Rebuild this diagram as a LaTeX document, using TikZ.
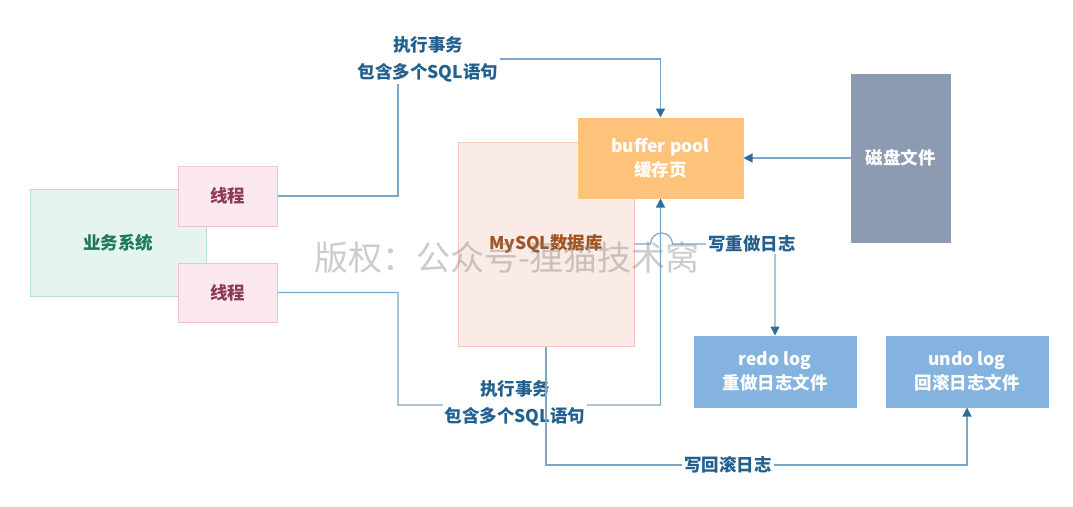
\documentclass[tikz,border=0pt]{standalone}
\usepackage{fontspec}
\setmainfont{Noto Sans CJK SC}
\usetikzlibrary{arrows.meta}
\definecolor{linec}{HTML}{7BA7C9}
\definecolor{tipc}{HTML}{2F6D9C}
\definecolor{lblc}{HTML}{22608F}
\definecolor{bizfill}{HTML}{E6F4EE}
\definecolor{bizdraw}{HTML}{B8E0D0}
\definecolor{biztext}{HTML}{1D7A5A}
\definecolor{thrfill}{HTML}{FBE9EF}
\definecolor{thrdraw}{HTML}{F0C0CC}
\definecolor{thrtext}{HTML}{8C3A55}
\definecolor{myfill}{HTML}{FBEBE6}
\definecolor{mydraw}{HTML}{F4C9B8}
\definecolor{mytext}{HTML}{A0531F}
\definecolor{buffill}{HTML}{FFC27A}
\definecolor{diskfill}{HTML}{8C9BB1}
\definecolor{logfill}{HTML}{84B3E0}
\tikzset{
  box/.style={rectangle, inner sep=0pt, line width=1pt, align=center, font=\fontsize{17.5}{24}\selectfont\bfseries},
  conn/.style={draw=linec, line width=1.2pt},
  arr/.style={-{Triangle[length=9pt,width=9pt,color=tipc]}},
  lbl/.style={fill=white, inner sep=2pt, align=center, text=lblc, font=\fontsize{17.5}{27}\selectfont\bfseries}
}
\begin{document}
\begin{tikzpicture}[x=1pt,y=-1pt]
\useasboundingbox[fill=white] (0,0) rectangle (1073,506);
% boxes
\node[box, fill=bizfill, draw=bizdraw, text=biztext, minimum width=176pt, minimum height=107pt] (biz) at (118,242.5) {业务系统};
\node[box, fill=thrfill, draw=thrdraw, text=thrtext, minimum width=99pt, minimum height=60pt] (t1) at (227.5,196) {线程};
\node[box, fill=thrfill, draw=thrdraw, text=thrtext, minimum width=99pt, minimum height=59pt] (t2) at (227.5,292.5) {线程};
\node[box, fill=myfill, draw=mydraw, text=mytext, minimum width=176pt, minimum height=204pt] (my) at (546,244) {MySQL数据库};
\node[box, fill=buffill, draw=buffill, text=white, minimum width=165pt, minimum height=80pt] (buf) at (660.5,158) {buffer pool\\缓存页};
\node[box, fill=diskfill, draw=diskfill, text=white, minimum width=99pt, minimum height=168pt] (disk) at (900.5,158) {磁盘文件};
\node[box, fill=logfill, draw=logfill, text=white, minimum width=162pt, minimum height=71pt] (redo) at (775,371.5) {redo log\\重做日志文件};
\node[box, fill=logfill, draw=logfill, text=white, minimum width=162pt, minimum height=71pt] (undo) at (967,371.5) {undo log\\回滚日志文件};
% connectors
\coordinate (c1) at (398,59);
\draw[conn,arr] (t1.east) -| (c1) -- (buf.north |- c1) -- (buf.north);
\node[lbl] (l1) at (428,59) {执行事务\\包含多个SQL语句};
\coordinate (c2) at (398,405);
\draw[conn,arr] (t2.east) -| (c2) -- (535.7,405) arc[start angle=180, end angle=0, radius=11pt] -- (buf.south |- c2) -- (buf.south);
\node[lbl] (l2) at (515,403) {执行事务\\包含多个SQL语句};
\draw[conn,arr] (disk.west) -- (buf.east);
\coordinate (c4) at (775,244);
\draw[conn,arr] (my.east) -- (650.5,244) arc[start angle=180, end angle=0, radius=11pt] -- (c4) -- (redo.north);
\node[lbl] (l4) at (752,244) {写重做日志};
\coordinate (c5) at (546,465);
\draw[conn,arr] (my.south) -- (c5) -- (undo.south |- c5) -- (undo.south);
\node[lbl] (l5) at (728,465) {写回滚日志};
% watermark
\node[text=gray, opacity=0.4, font=\fontsize{34}{40}\selectfont] (wm) at (507,258) {版权：公众号-狸猫技术窝};
\end{tikzpicture}
\end{document}
